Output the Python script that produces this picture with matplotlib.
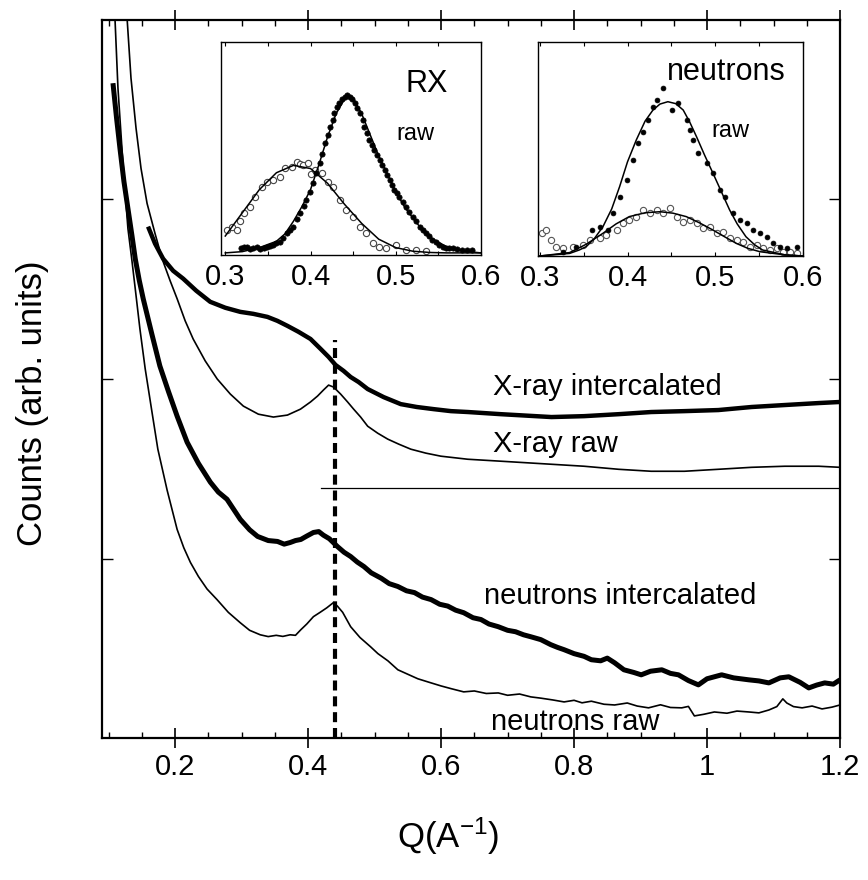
import matplotlib
matplotlib.use("Agg")
import matplotlib.pyplot as plt
from matplotlib.ticker import MultipleLocator, FixedLocator

plt.rcParams['font.family'] = ['Liberation Sans', 'DejaVu Sans']
plt.rcParams['mathtext.fontset'] = 'custom'
plt.rcParams['mathtext.rm'] = 'Liberation Sans'
plt.rcParams['mathtext.it'] = 'Liberation Sans:italic'

# ---------------- main panel data (Q in 1/A, counts arb. units) ----------------
xray_raw_q = [0.128, 0.1336, 0.1412, 0.1487, 0.1578, 0.1698, 0.1804, 0.1925, 0.203, 0.2151,
              0.2271, 0.2452, 0.2633, 0.283, 0.3026, 0.3252, 0.3478, 0.3689, 0.3885, 0.4036,
              0.4142, 0.4232, 0.4308, 0.4383, 0.4489, 0.4594, 0.4685, 0.479, 0.4896, 0.5047,
              0.5198, 0.5364, 0.5545, 0.5771, 0.5997, 0.640, 0.690, 0.766, 0.815, 0.867,
              0.916, 0.966, 1.017, 1.067, 1.117, 1.168, 1.200]
xray_raw_c = [3.994, 3.676, 3.397, 3.173, 2.978, 2.810, 2.670, 2.547, 2.447, 2.324,
              2.223, 2.101, 2.000, 1.916, 1.849, 1.804, 1.788, 1.799, 1.832, 1.872,
              1.905, 1.939, 1.966, 1.955, 1.916, 1.872, 1.832, 1.788, 1.737, 1.698,
              1.665, 1.637, 1.609, 1.587, 1.570, 1.553, 1.542, 1.525, 1.514, 1.497,
              1.486, 1.486, 1.497, 1.508, 1.514, 1.514, 1.508]

xray_int_q = [0.1593, 0.1698, 0.1819, 0.197, 0.2121, 0.2317, 0.2528, 0.2754, 0.298, 0.3176,
              0.3388, 0.3538, 0.3689, 0.3855, 0.4036, 0.4187, 0.4308, 0.4413, 0.4534, 0.464,
              0.476, 0.4896, 0.5137, 0.5394, 0.5635, 0.5891, 0.6148, 0.6404, 0.690, 0.766,
              0.815, 0.867, 0.916, 0.966, 1.017, 1.067, 1.117, 1.168, 1.200]
xray_int_c = [2.849, 2.754, 2.670, 2.603, 2.559, 2.492, 2.430, 2.397, 2.374, 2.363,
              2.346, 2.324, 2.296, 2.263, 2.223, 2.168, 2.123, 2.078, 2.045, 2.011,
              1.983, 1.944, 1.899, 1.860, 1.844, 1.832, 1.821, 1.816, 1.804, 1.788,
              1.793, 1.804, 1.816, 1.821, 1.827, 1.844, 1.855, 1.866, 1.872]

neut_raw_q = [0.1095, 0.114, 0.120, 0.125, 0.129, 0.135, 0.140, 0.147, 0.155, 0.165,
              0.174, 0.188, 0.203, 0.213, 0.223, 0.235, 0.248, 0.263, 0.280, 0.298,
              0.312, 0.328, 0.340, 0.352, 0.362, 0.373, 0.381, 0.389, 0.398, 0.408,
              0.418, 0.428, 0.438, 0.444, 0.452, 0.464, 0.478, 0.494, 0.505, 0.520,
              0.535, 0.550, 0.565, 0.585, 0.600, 0.615, 0.634, 0.650, 0.668, 0.686,
              0.700, 0.718, 0.735, 0.750, 0.768, 0.785, 0.800, 0.812, 0.826, 0.845,
              0.861, 0.880, 0.895, 0.912, 0.930, 0.945, 0.962, 0.972, 0.981, 0.995,
              1.011, 1.030, 1.045, 1.063, 1.078, 1.093, 1.105, 1.114, 1.120, 1.130,
              1.143, 1.158, 1.173, 1.188, 1.200]
neut_raw_c = [4.010, 3.620, 3.285, 3.030, 2.838, 2.660, 2.503, 2.280, 2.056, 1.820,
              1.609, 1.380, 1.162, 1.060, 0.978, 0.900, 0.830, 0.771, 0.700, 0.642,
              0.600, 0.575, 0.565, 0.572, 0.566, 0.575, 0.572, 0.603, 0.635, 0.676,
              0.700, 0.725, 0.754, 0.735, 0.700, 0.620, 0.560, 0.508, 0.470, 0.430,
              0.380, 0.355, 0.330, 0.307, 0.290, 0.275, 0.257, 0.262, 0.248, 0.251,
              0.238, 0.245, 0.229, 0.222, 0.212, 0.201, 0.210, 0.196, 0.205, 0.188,
              0.184, 0.195, 0.178, 0.168, 0.185, 0.170, 0.168, 0.176, 0.123, 0.132,
              0.145, 0.138, 0.150, 0.145, 0.140, 0.156, 0.175, 0.218, 0.195, 0.175,
              0.168, 0.178, 0.162, 0.172, 0.184]

neut_int_q = [0.1065, 0.112, 0.117, 0.123, 0.129, 0.135, 0.140, 0.146, 0.152, 0.165,
              0.177, 0.190, 0.203, 0.218, 0.235, 0.253, 0.265, 0.278, 0.298, 0.312,
              0.324, 0.340, 0.354, 0.364, 0.373, 0.381, 0.389, 0.398, 0.408, 0.416,
              0.423, 0.432, 0.444, 0.454, 0.464, 0.474, 0.484, 0.495, 0.510, 0.522,
              0.535, 0.548, 0.560, 0.572, 0.585, 0.598, 0.610, 0.622, 0.634, 0.648,
              0.660, 0.672, 0.686, 0.700, 0.712, 0.724, 0.735, 0.750, 0.765, 0.775,
              0.785, 0.800, 0.815, 0.826, 0.840, 0.850, 0.861, 0.875, 0.890, 0.901,
              0.915, 0.932, 0.945, 0.957, 0.972, 0.987, 1.000, 1.022, 1.040, 1.063,
              1.078, 1.093, 1.110, 1.123, 1.140, 1.153, 1.165, 1.177, 1.190, 1.200]
neut_int_c = [3.648, 3.450, 3.285, 3.100, 2.950, 2.800, 2.670, 2.550, 2.447, 2.250,
              2.073, 1.930, 1.793, 1.648, 1.530, 1.425, 1.370, 1.330, 1.218, 1.160,
              1.123, 1.100, 1.095, 1.080, 1.089, 1.100, 1.106, 1.125, 1.145, 1.150,
              1.130, 1.110, 1.067, 1.035, 1.011, 0.980, 0.955, 0.920, 0.890, 0.860,
              0.844, 0.820, 0.810, 0.785, 0.771, 0.745, 0.735, 0.712, 0.698, 0.670,
              0.660, 0.635, 0.620, 0.600, 0.592, 0.575, 0.564, 0.548, 0.520, 0.505,
              0.492, 0.470, 0.455, 0.436, 0.430, 0.445, 0.419, 0.380, 0.365, 0.352,
              0.372, 0.380, 0.360, 0.352, 0.320, 0.296, 0.330, 0.352, 0.335, 0.324,
              0.318, 0.307, 0.335, 0.341, 0.310, 0.279, 0.295, 0.307, 0.300, 0.324]

baseline_q = [0.419, 1.200]
baseline_c = [1.390, 1.390]
peak_q = 0.441
peak_top = 2.22

curve_labels = ["X-ray intercalated", "X-ray raw", "neutrons intercalated", "neutrons raw"]
label_q = [0.678, 0.678, 0.665, 0.675]
label_c = [1.955, 1.637, 0.793, 0.089]

x_ticks = [0.2, 0.4, 0.6, 0.8, 1.0, 1.2]
x_ticklabels = ["0.2", "0.4", "0.6", "0.8", "1", "1.2"]

# ---------------- inset RX ----------------
rx_fit_q = [0.30, 0.32, 0.34, 0.36, 0.38, 0.40, 0.42, 0.44, 0.46, 0.48, 0.50, 0.52, 0.54, 0.56, 0.58, 0.60]
rx_fit_open = [0.08, 0.19, 0.30, 0.38, 0.415, 0.40, 0.33, 0.23, 0.14, 0.065, 0.025, 0.008, 0.002, 0.0, 0.0, 0.0]
rx_fit_q2 = [0.30, 0.32, 0.34, 0.36, 0.37, 0.38, 0.39, 0.40, 0.41, 0.42, 0.43, 0.44, 0.445,
             0.45, 0.46, 0.47, 0.48, 0.49, 0.50, 0.51, 0.52, 0.53, 0.54, 0.56, 0.58, 0.60]
rx_fit_dots = [0.0, 0.006, 0.025, 0.055, 0.09, 0.15, 0.22, 0.30, 0.42, 0.55, 0.66, 0.73, 0.745,
               0.735, 0.66, 0.56, 0.46, 0.375, 0.29, 0.22, 0.165, 0.115, 0.075, 0.028, 0.008, 0.0]

rx_open_q = [0.302, 0.3078, 0.3136, 0.3175, 0.3214, 0.3292, 0.335, 0.3428, 0.3486, 0.3564,
             0.3642, 0.370, 0.3778, 0.3837, 0.3875, 0.3914, 0.3972, 0.401, 0.405, 0.4129,
             0.4206, 0.4264, 0.4342, 0.442, 0.4498, 0.4576, 0.4654, 0.4731, 0.4809, 0.4887,
             0.5004, 0.5121, 0.5237, 0.5354]
rx_open_c = [0.109, 0.125, 0.109, 0.150, 0.188, 0.219, 0.267, 0.314, 0.338, 0.346,
             0.362, 0.401, 0.409, 0.433, 0.420, 0.417, 0.425, 0.372, 0.393, 0.378,
             0.338, 0.314, 0.251, 0.204, 0.172, 0.125, 0.093, 0.046, 0.030, 0.022,
             0.038, 0.014, 0.014, 0.011]

rx_dot_q = [0.318, 0.322, 0.325, 0.329, 0.333, 0.337, 0.341, 0.345, 0.349, 0.353,
            0.356, 0.360, 0.364, 0.368, 0.372, 0.376, 0.380, 0.384, 0.388, 0.392,
            0.395, 0.399, 0.403, 0.407, 0.411, 0.414, 0.417, 0.420, 0.423, 0.426,
            0.428, 0.431, 0.434, 0.437, 0.440, 0.443, 0.446, 0.449, 0.452, 0.455,
            0.458, 0.461, 0.463, 0.466, 0.469, 0.472, 0.475, 0.478, 0.481, 0.484,
            0.487, 0.490, 0.493, 0.496, 0.498, 0.501, 0.504, 0.508, 0.512, 0.516,
            0.520, 0.524, 0.528, 0.532, 0.535, 0.539, 0.543, 0.547, 0.551, 0.555,
            0.559, 0.563, 0.567, 0.572, 0.578, 0.584, 0.590]
rx_dot_c = [0.022, 0.028, 0.030, 0.020, 0.022, 0.026, 0.017, 0.024, 0.027, 0.033,
            0.038, 0.045, 0.054, 0.072, 0.093, 0.108, 0.125, 0.160, 0.188, 0.222,
            0.251, 0.290, 0.330, 0.378, 0.425, 0.470, 0.520, 0.560, 0.599, 0.630,
            0.662, 0.690, 0.709, 0.728, 0.741, 0.750, 0.741, 0.730, 0.709, 0.688,
            0.662, 0.630, 0.599, 0.570, 0.536, 0.512, 0.488, 0.466, 0.441, 0.418,
            0.393, 0.370, 0.346, 0.322, 0.299, 0.283, 0.267, 0.243, 0.219, 0.196,
            0.172, 0.150, 0.125, 0.108, 0.093, 0.078, 0.062, 0.050, 0.038, 0.030,
            0.022, 0.025, 0.022, 0.018, 0.014, 0.016, 0.014]

# ---------------- inset neutrons ----------------
ne_fit_q = [0.300, 0.334, 0.345, 0.353, 0.362, 0.372, 0.382, 0.391, 0.400, 0.410,
            0.420, 0.429, 0.437, 0.446, 0.455, 0.4635, 0.471, 0.4787, 0.488, 0.4975,
            0.507, 0.5164, 0.525, 0.535, 0.545, 0.554, 0.580, 0.600]
ne_fit_dots = [0.0, 0.012, 0.028, 0.044, 0.080, 0.137, 0.220, 0.324, 0.440, 0.542,
               0.630, 0.682, 0.710, 0.721, 0.712, 0.682, 0.625, 0.557, 0.470, 0.386,
               0.300, 0.215, 0.150, 0.090, 0.052, 0.028, 0.005, 0.0]
ne_fit_q2 = [0.300, 0.334, 0.353, 0.372, 0.387, 0.402, 0.420, 0.437, 0.452, 0.467,
             0.482, 0.4975, 0.511, 0.524, 0.537, 0.551, 0.580, 0.600]
ne_fit_open = [0.0, 0.016, 0.055, 0.106, 0.150, 0.184, 0.202, 0.207, 0.200, 0.184,
               0.155, 0.121, 0.089, 0.059, 0.036, 0.020, 0.005, 0.0]

ne_dot_q = [0.3266, 0.3418, 0.359, 0.3684, 0.3779, 0.3836, 0.3913, 0.3989, 0.4065, 0.4122,
            0.4179, 0.4236, 0.4293, 0.4338, 0.4407, 0.4502, 0.4578, 0.4673, 0.4711, 0.4749,
            0.4806, 0.4901, 0.4977, 0.5053, 0.5110, 0.5205, 0.5281, 0.5358, 0.5433, 0.5510,
            0.5586, 0.5662, 0.5738, 0.5814, 0.5928]
ne_dot_c = [0.020, 0.044, 0.121, 0.137, 0.121, 0.199, 0.277, 0.355, 0.449, 0.527,
            0.581, 0.636, 0.698, 0.729, 0.783, 0.682, 0.713, 0.636, 0.589, 0.542,
            0.480, 0.433, 0.386, 0.308, 0.277, 0.199, 0.168, 0.153, 0.121, 0.106,
            0.090, 0.059, 0.044, 0.036, 0.044]

ne_open_q = [0.302, 0.3076, 0.3133, 0.319, 0.3266, 0.338, 0.3494, 0.357, 0.3684, 0.376,
             0.3875, 0.395, 0.402, 0.410, 0.4179, 0.4255, 0.4331, 0.4407, 0.4483, 0.456,
             0.4635, 0.4711, 0.4787, 0.4863, 0.4939, 0.5016, 0.509, 0.5167, 0.5243, 0.5319,
             0.5396, 0.5472, 0.5547, 0.5624, 0.570, 0.5775, 0.5852, 0.5928]
ne_open_c = [0.106, 0.121, 0.075, 0.044, 0.036, 0.044, 0.051, 0.075, 0.083, 0.098,
             0.121, 0.153, 0.168, 0.184, 0.215, 0.199, 0.215, 0.199, 0.223, 0.184,
             0.160, 0.168, 0.153, 0.129, 0.137, 0.106, 0.114, 0.083, 0.075, 0.067,
             0.044, 0.051, 0.036, 0.028, 0.036, 0.020, 0.020, 0.012]

inset_ticks = [0.3, 0.4, 0.5, 0.6]
inset_ticklabels = ["0.3", "0.4", "0.5", "0.6"]

# ---------------- figure ----------------
FS = 21
fig = plt.figure(figsize=(8.68, 8.80), dpi=100)
ax = fig.add_axes([102 / 868, 1 - 738 / 880, 738 / 868, 718 / 880])

thin = 1.2
thick = 3.6
ax.plot(xray_raw_q, xray_raw_c, color='black', lw=thin)
ax.plot(xray_int_q, xray_int_c, color='black', lw=3.2, solid_capstyle='butt')
ax.plot(neut_raw_q, neut_raw_c, color='black', lw=thin)
ax.plot(neut_int_q, neut_int_c, color='black', lw=thick, solid_capstyle='butt')
ax.plot(baseline_q, baseline_c, color='black', lw=0.9)
ax.plot([peak_q, peak_q], [0, peak_top], color='black', lw=3.0,
        linestyle=(0, (2.4, 1.4)))

for t, q, c in zip(curve_labels, label_q, label_c):
    ax.text(q, c, t, fontsize=FS, ha='left', va='center')

ax.set_xlim(0.09, 1.2)
ax.set_ylim(0, 4)
ax.set_xticks(x_ticks)
ax.set_xticklabels(x_ticklabels)
ax.xaxis.set_minor_locator(MultipleLocator(0.05))
ax.yaxis.set_major_locator(FixedLocator([1, 2, 3]))
ax.tick_params(axis='x', which='major', direction='inout', length=14, width=1.2,
               top=True, labelsize=FS, pad=4)
ax.tick_params(axis='x', which='minor', direction='in', length=4, width=1.0, top=True)
ax.tick_params(axis='y', which='major', direction='in', length=8, width=1.0,
               left=True, right=True, labelleft=False)
for s in ax.spines.values():
    s.set_linewidth(1.6)

ax.set_xlabel(r'Q(A$^{-1}$)', fontsize=25)
ax.xaxis.set_label_coords(0.469, -0.108)
ax.set_ylabel('Counts (arb. units)', fontsize=25)
ax.yaxis.set_label_coords(-0.072, 0.4666)

# inset RX
ax1 = fig.add_axes([221 / 868, 1 - 255 / 880, 260 / 868, 213 / 880])
ax1.plot(rx_open_q, rx_open_c, linestyle='none', marker='o', ms=4.5, mfc='white',
         mec='#444444', mew=0.8)
ax1.plot(rx_dot_q, rx_dot_c, linestyle='none', marker='o', ms=3.8, mfc='black',
         mec='black', mew=0.5)
ax1.plot(rx_fit_q, rx_fit_open, color='black', lw=1.1)
ax1.plot(rx_fit_q2, rx_fit_dots, color='black', lw=1.1)
ax1.set_xlim(0.295, 0.6)
ax1.set_ylim(-0.01, 1.0)
ax1.text(0.512, 0.763, 'RX', fontsize=22, ha='left', va='baseline')
ax1.text(0.501, 0.536, 'raw', fontsize=17, ha='left', va='baseline')

# inset neutrons
ax2 = fig.add_axes([538 / 868, 1 - 256 / 880, 265 / 868, 214 / 880])
ax2.plot(ne_open_q, ne_open_c, linestyle='none', marker='o', ms=4.5, mfc='white',
         mec='#555555', mew=0.8)
ax2.plot(ne_dot_q, ne_dot_c, linestyle='none', marker='o', ms=3.5, mfc='black',
         mec='black', mew=0.5)
ax2.plot(ne_fit_q, ne_fit_dots, color='black', lw=1.1)
ax2.plot(ne_fit_q2, ne_fit_open, color='black', lw=1.1)
ax2.set_xlim(0.298, 0.6)
ax2.set_ylim(0, 1.0)
ax2.text(0.445, 0.822, 'neutrons', fontsize=22, ha='left', va='baseline')
ax2.text(0.496, 0.556, 'raw', fontsize=17, ha='left', va='baseline')

for a in (ax1, ax2):
    a.set_xticks(inset_ticks)
    a.set_xticklabels(inset_ticklabels)
    a.xaxis.set_minor_locator(MultipleLocator(0.05))
    a.set_yticks([])
    a.tick_params(axis='x', which='both', direction='in', length=3, width=0.8,
                  top=True, labelsize=FS, pad=6)
    for s in a.spines.values():
        s.set_linewidth(1.0)

fig.savefig('out.png', dpi=100, facecolor='white')
